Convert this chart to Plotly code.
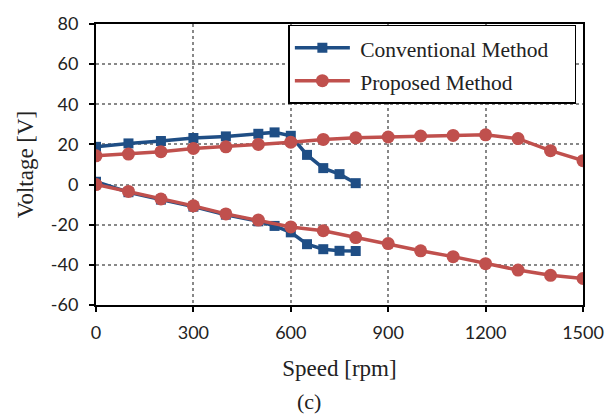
import plotly.graph_objects as go

# Conventional method
conv_speed = [0, 100, 200, 300, 400, 500, 550, 600, 650, 700, 750, 800]
conv_upper = [18.8, 20.5, 21.7, 23.2, 24.0, 25.3, 26.0, 24.3, 14.8, 8.2, 5.2, 0.7]
conv_lower = [1.4, -3.8, -7.5, -11.0, -15.0, -18.3, -20.6, -23.8, -29.7, -32.2, -33.0, -33.1]

# Proposed method
prop_speed = [0, 100, 200, 300, 400, 500, 600, 700, 800, 900, 1000, 1100, 1200, 1300, 1400, 1500]
prop_upper = [14.3, 15.2, 16.4, 18.0, 18.8, 20.0, 21.1, 22.5, 23.3, 23.7, 24.2, 24.5, 24.8, 22.9, 16.9, 11.9]
prop_lower = [0.0, -3.4, -7.2, -10.6, -14.6, -17.7, -21.1, -23.0, -26.4, -29.4, -33.0, -35.9, -39.4, -42.6, -45.2, -46.8]

x_ticks = [0, 300, 600, 900, 1200, 1500]
y_ticks = [-60, -40, -20, 0, 20, 40, 60, 80]

BLUE = "#1F4E85"
RED = "#C0504D"

SERIF = "Liberation Serif, Times New Roman, serif"

def legend_label(name):
    return ('<span style="font-size:21.5px">&nbsp;' + name +
            '&nbsp;&nbsp;&nbsp;&nbsp;</span>')

fig = go.Figure()

def add(x, y, name, color, symbol, size, show):
    fig.add_trace(go.Scatter(
        x=x, y=y, mode="lines+markers", name=legend_label(name),
        legendgroup=name, showlegend=show,
        line=dict(color=color, width=3.5),
        marker=dict(color=color, symbol=symbol, size=size),
    ))

add(conv_speed, conv_upper, "Conventional Method", BLUE, "square", 10, True)
add(conv_speed, conv_lower, "Conventional Method", BLUE, "square", 10, False)
add(prop_speed, prop_upper, "Proposed Method", RED, "circle", 13, True)
add(prop_speed, prop_lower, "Proposed Method", RED, "circle", 13, False)

tick_font = dict(family="Lato, Carlito, sans-serif", size=18, color="#222")
title_font = dict(family=SERIF, size=23, color="#222")

fig.update_layout(
    width=616, height=417,
    margin=dict(l=96, r=32, t=15, b=112),
    plot_bgcolor="white", paper_bgcolor="white",
    showlegend=True,
    legend=dict(
        x=0.395, y=0.997, xanchor="left", yanchor="top",
        bordercolor="black", borderwidth=1.5, bgcolor="white",
        font=dict(family=SERIF, size=23, color="#222"),
        itemwidth=55, tracegroupgap=0,
    ),
    xaxis=dict(
        range=[0, 1500], tickvals=x_ticks, ticktext=[str(v) for v in x_ticks],
        showline=True, linecolor="black", linewidth=2, mirror=True,
        ticks="outside", ticklen=5, tickwidth=2, tickcolor="black",
        ticklabelstandoff=5,
        showgrid=True, gridcolor="#888", griddash="dot", gridwidth=1.5,
        zeroline=False, tickfont=tick_font,
        title=dict(text="Speed [rpm]", font=title_font, standoff=18),
    ),
    yaxis=dict(
        range=[-60, 80], tickvals=y_ticks, ticktext=[str(v) for v in y_ticks],
        showline=True, linecolor="black", linewidth=2, mirror=True,
        ticks="outside", ticklen=5, tickwidth=2, tickcolor="black",
        ticklabelstandoff=7,
        showgrid=True, gridcolor="#888", griddash="dot", gridwidth=1.5,
        zeroline=False, tickfont=tick_font,
        title=dict(text="Voltage [V]", font=title_font, standoff=11),
    ),
    annotations=[dict(
        text="(c)", xref="paper", yref="paper", x=0.4365, y=-0.345,
        xanchor="center", yanchor="middle", showarrow=False,
        font=dict(family=SERIF, size=22, color="#222"),
    )],
)

fig.write_html("out.html")
